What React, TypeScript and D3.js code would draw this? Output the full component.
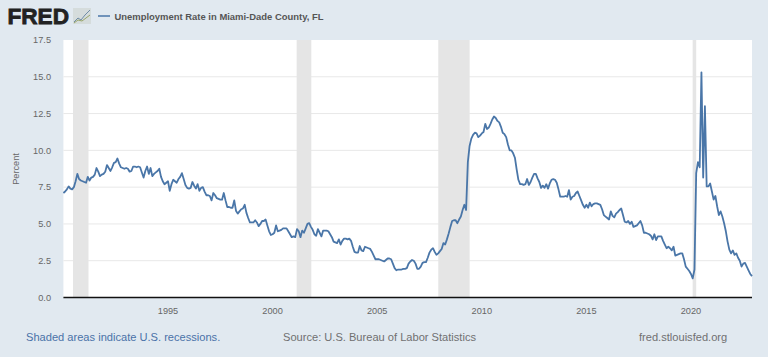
import React from "react";
import * as d3 from "d3";

const startYear = 1990;
const v1990 = [7.1,7.2,7.35,7.55,7.4,7.35,7.5,7.9,8.4,8.05,7.95,7.9];
const v1991 = [7.85,7.8,8.2,7.95,8.15,8.2,8.35,8.8,8.55,8.25,8.35,8.4];
const v1992 = [8.55,9.0,8.8,8.6,8.85,9.15,9.2,9.45,9.1,8.85,8.8,8.75];
const v1993 = [8.8,8.75,8.55,8.6,8.9,8.9,8.85,8.9,8.85,8.5,8.15,8.6];
const v1994 = [8.9,8.4,8.8,8.25,8.4,8.5,8.6,8.75,8.2,7.9,7.7,7.8];
const v1995 = [7.9,7.25,7.7,8.0,7.9,7.8,8.05,8.2,8.45,8.05,7.65,7.45];
const v1996 = [7.4,7.45,7.85,7.6,7.4,7.7,7.25,7.45,7.5,7.2,6.95,6.95];
const v1997 = [6.9,6.6,7.1,6.95,6.75,6.7,6.65,6.65,7.1,6.6,6.15,6.15];
const v1998 = [6.1,6.1,6.6,5.9,5.7,5.85,6.0,6.05,6.3,5.75,5.4,5.1];
const v1999 = [5.1,5.1,5.25,5.1,4.85,5.0,5.2,5.2,5.3,4.9,4.5,4.25];
const v2000 = [4.3,4.4,4.9,4.5,4.55,4.6,4.7,4.7,4.7,4.5,4.3,4.1];
const v2001 = [4.15,4.1,4.65,4.5,4.1,4.55,4.4,4.7,5.0,5.05,4.8,4.6];
const v2002 = [4.3,4.2,4.65,4.4,4.15,4.55,4.55,4.55,4.5,4.3,4.1,3.8];
const v2003 = [3.75,3.7,3.95,3.6,3.85,4.0,4.0,3.95,4.0,3.85,3.45,3.1];
const v2004 = [3.05,3.05,3.5,3.2,3.15,3.45,3.4,3.35,3.3,3.1,2.85,2.6];
const v2005 = [2.6,2.6,2.55,2.5,2.45,2.55,2.65,2.65,2.6,2.3,2.0,1.85];
const v2006 = [1.9,1.9,1.9,1.95,1.95,2.0,2.3,2.45,2.55,2.5,2.3,1.95];
const v2007 = [1.95,2.1,2.35,2.4,2.4,2.7,3.05,3.25,3.35,3.1,2.9,3.0];
const v2008 = [3.15,3.3,3.7,3.6,3.95,4.35,4.8,5.2,5.25,5.25,5.05,5.3];
const v2009 = [5.5,5.95,6.3,5.95,9.2,10.3,10.8,11.05,11.2,11.15,10.9,11.0];
const v2010 = [11.15,11.25,11.8,11.45,11.55,11.8,12.1,12.3,12.2,12.0,11.9,11.6];
const v2011 = [11.2,11.1,10.9,10.4,10.0,10.0,9.8,9.5,8.7,8.0,7.7,7.7];
const v2012 = [7.65,7.7,8.05,7.65,7.85,8.15,8.4,8.4,8.1,7.85,7.45,7.6];
const v2013 = [7.45,7.7,7.4,7.75,8.0,8.05,8.0,7.8,7.35,6.85,6.85,6.85];
const v2014 = [6.9,6.85,7.3,6.65,6.85,6.9,7.1,7.2,6.9,6.6,6.3,6.1];
const v2015 = [6.3,6.1,6.45,6.2,6.35,6.4,6.4,6.35,6.3,6.0,5.6,5.5];
const v2016 = [5.4,5.3,5.85,5.55,5.45,5.7,5.8,5.95,6.05,5.6,5.15,5.1];
const v2017 = [5.2,5.0,5.15,4.8,4.85,4.9,5.05,5.2,4.9,4.4,4.4,4.35];
const v2018 = [4.3,4.2,3.95,4.3,3.9,4.15,4.15,4.15,3.85,3.6,3.35,3.45];
const v2019 = [3.35,3.2,3.45,2.85,2.9,2.95,3.0,3.0,2.6,2.1,1.95,1.8];
const v2020 = [1.6,1.3,1.9,8.45,9.2,8.85,15.3,8.15,13.0,7.55,7.55,7.75];
const v2021 = [7.2,6.65,6.9,6.2,5.6,5.85,5.5,5.05,4.5,3.8,3.25,3.0];
const v2022 = [3.2,2.9,3.0,2.7,2.5,2.1,2.3,2.35,2.1,1.85,1.6,1.45];

const values = [
  v1990,v1991,v1992,v1993,v1994,v1995,v1996,v1997,v1998,v1999,v2000,
  v2001,v2002,v2003,v2004,v2005,v2006,v2007,v2008,v2009,v2010,v2011,
  v2012,v2013,v2014,v2015,v2016,v2017,v2018,v2019,v2020,v2021,v2022,
].flat();

const recessions: [number, number][] = [
  [1990.46, 1991.2],
  [2001.15, 2001.85],
  [2007.92, 2009.42],
  [2020.08, 2020.25],
];
const yTicks = [0, 2.5, 5, 7.5, 10, 12.5, 15, 17.5];
const xTicks = [1995, 2000, 2005, 2010, 2015, 2020];

const title = "Unemployment Rate in Miami-Dade County, FL";
const footLeft = "Shaded areas indicate U.S. recessions.";
const footMid = "Source: U.S. Bureau of Labor Statistics";
const footRight = "fred.stlouisfed.org";

const W = 768, H = 357;
const x = d3.scaleLinear().domain([1990, 2022.917]).range([63.4, 752]);
const y = d3.scaleLinear().domain([0, 17.5]).range([297.5, 40]);
const line = d3.line<number>()
  .x((_, i) => x(startYear + i / 12))
  .y((d) => y(d));

const sans = "'Liberation Sans', Arial, sans-serif";

export default function App() {
  return (
    <svg width={W} height={H} style={{ position: "absolute", left: 0, top: 0, display: "block" }} fontFamily={sans}>
      <rect width={W} height={H} fill="#e1e9f0" />
      <rect x={x.range()[0]} y={40} width={x.range()[1] - x.range()[0]} height={257.5} fill="#ffffff" />
      {yTicks.slice(1, -1).map((t) => (
        <line key={t} x1={x.range()[0]} x2={x.range()[1]} y1={y(t)} y2={y(t)} stroke="#e8e8e8" strokeWidth={1} />
      ))}
      {recessions.map(([a, b]) => (
        <rect key={a} x={x(a)} y={40} width={x(b) - x(a)} height={257.5} fill="#e5e5e5" />
      ))}
      <path d={line(values) ?? ""} fill="none" stroke="#4a76a8" strokeWidth={1.8} strokeLinejoin="round" />
      <line x1={x.range()[0]} x2={x.range()[1]} y1={297.5} y2={297.5} stroke="#111" strokeWidth={1.4} />
      {yTicks.map((t) => (
        <text key={t} x={51} y={y(t) + 3.2} textAnchor="end" fontSize={9.2} fill="#666">{t.toFixed(1)}</text>
      ))}
      {xTicks.map((t) => (
        <text key={t} x={x(t)} y={313.5} textAnchor="middle" fontSize={9.2} fill="#666">{t}</text>
      ))}
      <text transform="translate(18.5,169) rotate(-90)" textAnchor="middle" fontSize={9.2} fill="#666">Percent</text>

      <text x={7.5} y={24} fontSize={22} fontWeight={700} fill="#222" stroke="#222" strokeWidth={0.8} textLength={61.5} lengthAdjust="spacingAndGlyphs">FRED</text>
      <g>
        <rect x={73} y={8} width={18} height={16} fill="#d5dcdc" />
        <polyline points="74,22 78,18 81,20 85,15 90,10" fill="none" stroke="#6f8ca6" strokeWidth={1} />
        <polyline points="74,23 78,20 82,21 86,18 90,15" fill="none" stroke="#98a56a" strokeWidth={1} />
      </g>
      <line x1={98} x2={110} y1={16} y2={16} stroke="#4a76a8" strokeWidth={1.5} />
      <text x={114.5} y={19.5} fontSize={9.45} fontWeight={700} fill="#555">{title}</text>

      <text x={26} y={341} fontSize={11.1} fill="#4a72a8">{footLeft}</text>
      <text x={283} y={341} fontSize={11.1} fill="#707070">{footMid}</text>
      <text x={639} y={341} fontSize={11.1} fill="#707070">{footRight}</text>
    </svg>
  );
}
